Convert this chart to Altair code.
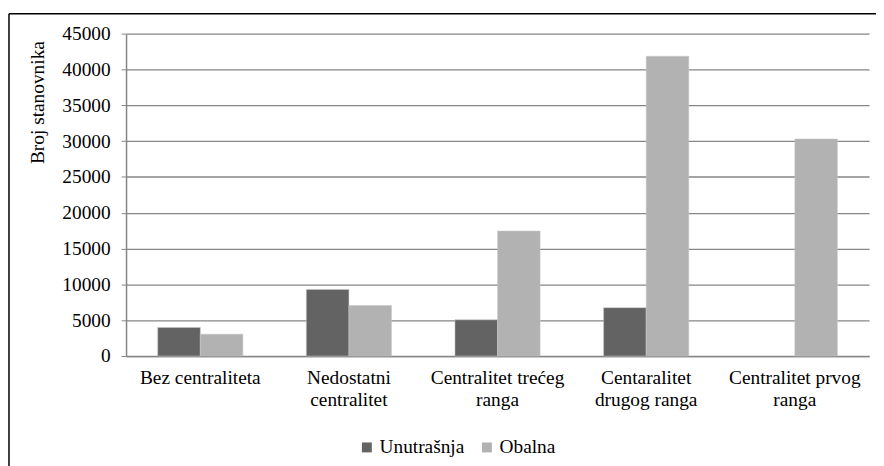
import altair as alt
import pandas as pd

categories = ["Bez centraliteta", "Nedostatni|centralitet", "Centralitet trećeg|ranga",
              "Centaralitet|drugog ranga", "Centralitet prvog|ranga"]
series = ["Unutrašnja", "Obalna"]
unutrasnja = [4000, 9300, 5050, 6750, None]
obalna = [3050, 7050, 17450, 41850, 30300]
y_ticks = [0, 5000, 10000, 15000, 20000, 25000, 30000, 35000, 40000, 45000]

rows = []
for c, u, o in zip(categories, unutrasnja, obalna):
    if u is not None:
        rows.append({"kat": c, "serija": series[0], "vrijednost": u})
    rows.append({"kat": c, "serija": series[1], "vrijednost": o})
df = pd.DataFrame(rows)

FONT = "'Liberation Serif', 'Times New Roman', serif"
GRID = "#868686"
FS = 19.5

bars = alt.Chart(df).mark_bar(stroke="#c8c8c8", strokeWidth=0.5).encode(
    x=alt.X("kat:N", sort=categories,
            scale=alt.Scale(paddingInner=0.427, paddingOuter=0.213),
            axis=alt.Axis(title=None, labelAngle=0, ticks=False, labelPadding=13,
                          labelExpr="split(datum.label, '|')", labelFontSize=FS,
                          labelLineHeight=22, labelColor="black", labelFont=FONT,
                          domainColor=GRID, domainWidth=1.5, grid=False)),
    xOffset=alt.XOffset("serija:N", sort=series,
                        scale=alt.Scale(paddingInner=0, paddingOuter=0)),
    y=alt.Y("vrijednost:Q",
            scale=alt.Scale(domain=[0, 45000], nice=False),
            axis=alt.Axis(title="Broj stanovnika", values=y_ticks, format="d",
                          labelFontSize=FS, labelFont=FONT, labelColor="black",
                          labelPadding=11, tickSize=5, tickColor=GRID,
                          domainColor=GRID, domainWidth=1.5,
                          gridColor=GRID, gridWidth=1.3,
                          titleFont=FONT, titleFontSize=FS, titleFontWeight="normal",
                          titleColor="black", titleAngle=270, titleX=-89, titleY=69,
                          titleAlign="center", titleBaseline="middle")),
    color=alt.Color("serija:N", sort=series,
                    scale=alt.Scale(domain=series, range=["#636363", "#b2b2b2"]),
                    legend=alt.Legend(title=None, orient="none", direction="horizontal",
                                      legendX=233, legendY=407, symbolType="square",
                                      symbolSize=100, symbolStrokeWidth=0,
                                      labelFont=FONT, labelFontSize=FS, labelColor="black",
                                      labelOffset=3, columnPadding=12)),
)

frame_df = pd.DataFrame({"a": [0]})
top_line = alt.Chart(frame_df).mark_rule(color="black", strokeWidth=1.5).encode(
    x=alt.value(-118), x2=alt.value(760), y=alt.value(-20))
left_line = alt.Chart(frame_df).mark_rule(color="black", strokeWidth=1.5).encode(
    x=alt.value(-118), y=alt.value(-20), y2=alt.value(440))

chart = alt.layer(bars, top_line, left_line).properties(
    width=749, height=325,
    autosize=alt.AutoSizeParams(type="none"),
    padding={"left": 119, "top": 24, "right": 7, "bottom": 109},
).configure(font=FONT).configure_axis(labelFont=FONT, titleFont=FONT).configure_legend(
    labelFont=FONT).configure_view(stroke=None)

chart.save("out.html", embed_options={"renderer": "svg", "actions": False})
